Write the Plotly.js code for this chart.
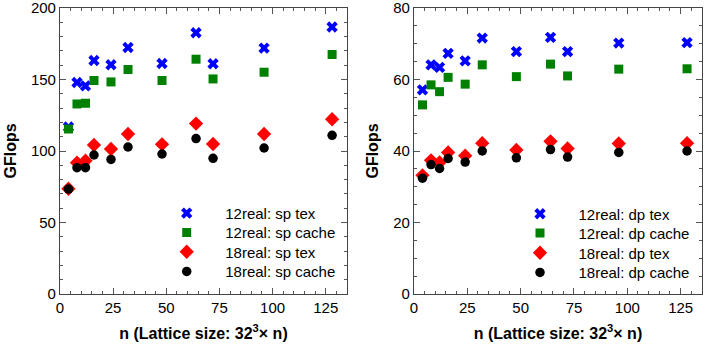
<!DOCTYPE html>
<html>
<head>
<meta charset="utf-8">
<script src="https://cdn.plot.ly/plotly-3.0.1.min.js"></script>
<style>
  html, body { margin: 0; padding: 0; background: #fff; }
  #plot { width: 708px; height: 356px; }
</style>
</head>
<body>
<div id="plot"></div>
<script>
"use strict";

// lattice time extent n (32^3 x n)
var latticeN = [4, 8, 12, 16, 24, 32, 48, 64, 72, 96, 128];

// single precision (left panel), GFlops
var spTex12 = [116.8, 147.9, 145.5, 163.3, 160.3, 172.4, 161.2, 182.7, 161.0, 172.0, 186.7];
var spCache12 = [115.4, 132.9, 133.4, 149.3, 148.3, 157.0, 149.3, 164.2, 150.4, 155.1, 167.5];
var spTex18 = [73.6, 91.8, 93.2, 104.2, 101.4, 111.9, 104.7, 119.2, 104.9, 111.9, 122.2];
var spCache18 = [73.4, 88.3, 88.3, 97.2, 94.1, 102.8, 97.9, 108.7, 94.9, 102.1, 111.0];

// double precision (right panel), GFlops
var dpTex12 = [57.1, 64.1, 63.4, 67.3, 65.2, 71.6, 67.8, 71.8, 67.8, 70.2, 70.3];
var dpCache12 = [52.9, 58.5, 56.6, 60.6, 58.7, 64.1, 60.8, 64.3, 61.0, 62.9, 63.0];
var dpTex18 = [33.2, 37.4, 36.8, 39.6, 38.7, 42.2, 40.3, 42.7, 40.7, 42.1, 42.2];
var dpCache18 = [32.4, 36.2, 35.1, 37.9, 36.9, 40.0, 38.1, 40.4, 38.3, 39.6, 40.0];

var xTicks = [0, 25, 50, 75, 100, 125];

// no serif face renders here, Liberation Sans is the closest in width
var FONT = 'Liberation Sans, Arial, sans-serif';

// marker styles shared by both panels
var STYLES = [
  {color: '#0000ff', symbol: 'x', size: 10},
  {color: '#008000', symbol: 'square', size: 9},
  {color: '#ff0000', symbol: 'diamond', size: 11},
  {color: '#000000', symbol: 'circle', size: 9.5},
];

function makeTrace(y, name, style, xaxis, yaxis, legend) {
  return {
    x: latticeN,
    y: y,
    name: name,
    type: 'scatter',
    mode: 'markers',
    showlegend: true,
    marker: {color: style.color, symbol: style.symbol, size: style.size, line: {width: 0}},
    xaxis: xaxis,
    yaxis: yaxis,
    legend: legend,
  };
}

var data = [
  makeTrace(spTex12, '12real: sp tex', STYLES[0], 'x', 'y', 'legend'),
  makeTrace(spCache12, '12real: sp cache', STYLES[1], 'x', 'y', 'legend2'),
  makeTrace(spTex18, '18real: sp tex', STYLES[2], 'x', 'y', 'legend3'),
  makeTrace(spCache18, '18real: sp cache', STYLES[3], 'x', 'y', 'legend4'),
  makeTrace(dpTex12, '12real: dp tex', STYLES[0], 'x2', 'y2', 'legend5'),
  makeTrace(dpCache12, '12real: dp cache', STYLES[1], 'x2', 'y2', 'legend6'),
  makeTrace(dpTex18, '18real: dp tex', STYLES[2], 'x2', 'y2', 'legend7'),
  makeTrace(dpCache18, '18real: dp cache', STYLES[3], 'x2', 'y2', 'legend8'),
];

function xAxis(domain, anchor) {
  return {
    domain: domain,
    anchor: anchor,
    range: [0, 135],
    tickvals: xTicks,
    ticks: 'inside',
    ticklen: 6,
    tickcolor: '#555',
    minor: {dtick: 5, ticks: 'inside', ticklen: 3, tickcolor: '#555'},
    showline: true,
    linecolor: '#444',
    linewidth: 1,
    mirror: 'ticks',
    showgrid: false,
    zeroline: false,
    tickfont: {family: FONT, size: 15, color: '#000'},
    title: {text: '<b>n (Lattice size: 32<sup>3</sup>× n)</b>', font: {family: FONT, size: 16, color: '#000'}, standoff: 12},
  };
}

function yAxis(range, dtick, minorDtick, anchor) {
  return {
    domain: [0.1742, 0.9775],
    anchor: anchor,
    range: range,
    dtick: dtick,
    tick0: 0,
    ticks: 'inside',
    ticklen: 6,
    tickcolor: '#555',
    minor: {dtick: minorDtick, ticks: 'inside', ticklen: 3, tickcolor: '#555'},
    showline: true,
    linecolor: '#444',
    linewidth: 1,
    mirror: 'ticks',
    showgrid: false,
    zeroline: false,
    ticklabeloverflow: 'allow',
    tickfont: {family: FONT, size: 15, color: '#000'},
    title: {text: '<b>GFlops</b>', font: {family: FONT, size: 16, color: '#000'}, standoff: 10},
  };
}

// one single-entry legend per trace, so each row sits where the reference has it
function legendRow(xPx, yPx) {
  return {
    x: (xPx - 38.5) / 708,
    y: 1 - yPx / 356,
    xanchor: 'left',
    yanchor: 'middle',
    bgcolor: 'rgba(0,0,0,0)',
    borderwidth: 0,
    itemwidth: 67,
    font: {family: FONT, size: 15, color: '#000'},
  };
}

var layout = {
  width: 708,
  height: 356,
  margin: {l: 0, r: 0, t: 0, b: 0},
  showlegend: true,
  paper_bgcolor: '#fff',
  plot_bgcolor: '#fff',
  font: {family: FONT, size: 15, color: '#000'},
  xaxis: xAxis([0.0847, 0.4901], 'y'),
  yaxis: yAxis([0, 200], 50, 10, 'x'),
  xaxis2: xAxis([0.5847, 0.9915], 'y2'),
  yaxis2: yAxis([0, 80], 20, 5, 'x2'),
  legend: legendRow(186.7, 213.3),
  legend2: legendRow(186.7, 232.7),
  legend3: legendRow(186.7, 252),
  legend4: legendRow(186.7, 271.7),
  legend5: legendRow(540, 214),
  legend6: legendRow(540, 233.3),
  legend7: legendRow(540, 253),
  legend8: legendRow(540, 272.7),
};

Plotly.newPlot('plot', data, layout, {displayModeBar: false, staticPlot: true});
</script>
</body>
</html>
